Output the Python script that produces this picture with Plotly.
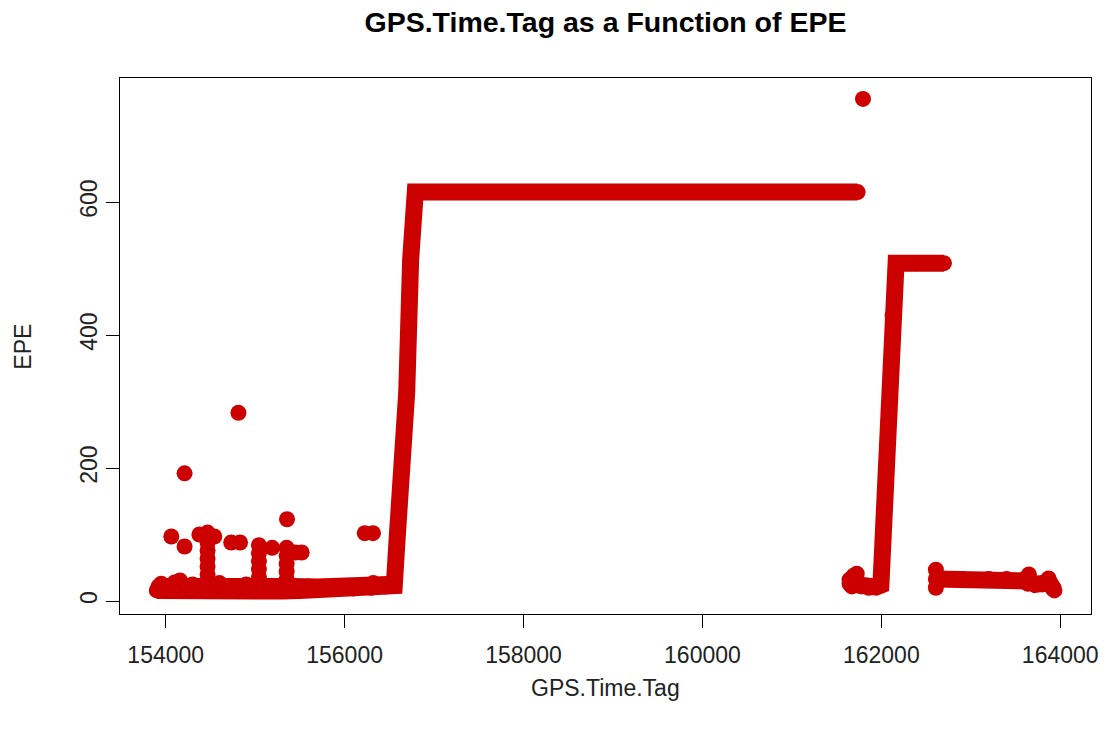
import plotly.graph_objects as go

RED = "#CD0000"

# ---- data (GPS.Time.Tag, EPE) ----
# main track, segment 1: low band, first rise, plateau at ~615
seg1_x = [153900, 154100, 154300, 154500, 154700, 154900, 155100, 155300, 155500,
          155700, 155900, 156100, 156300, 156450, 156555, 156590, 156650, 156694,
          156738, 156790, 157500, 158500, 159500, 160500, 161200, 161735]
seg1_y = [16, 15, 15, 15, 15, 15, 15, 15, 16,
          17, 18, 19, 20, 22, 23, 100, 220, 313,
          513, 615, 615, 615, 615, 615, 615, 615]

# upper edge of the low band (many readings between ~15 and ~25)
band_x = [153920, 154200, 154500, 154800, 155100, 155400, 155700, 156000, 156300, 156480]
band_y = [22, 23, 22, 22, 23, 22, 21, 22, 24, 25]

# segment 2: low cluster near 161700, second rise, plateau at ~508
seg2_x = [161645, 161700, 161780, 161860, 161940, 161995, 162040,
          162082, 162126, 162165, 162400, 162700]
seg2_y = [26, 24, 22, 20, 21, 24, 140,
          271, 429, 508, 508, 508]

# segment 3: final low plateau at ~33
seg3_x = [162610, 162900, 163200, 163400, 163600, 163660, 163720, 163800, 163880, 163935]
seg3_y = [33, 33, 33, 33, 33, 30, 25, 25, 28, 16]

# isolated / scattered points
pts_x = [153950, 154063, 154100, 154160, 154211, 154211, 154300, 154377, 154468,
         154543, 154468, 154468, 154468, 154468, 154468, 154600, 154732, 154813,
         154831, 154900, 155042, 155190, 155042, 155042, 155042, 155042, 155356,
         155352, 155352, 155352, 155352, 155352, 155449, 155520, 155600, 156225,
         156317, 156320, 161795,
         161645, 161690, 161725, 161670,
         162610, 162610, 163650, 163640, 163870]
pts_y = [26, 97, 28, 31, 82, 192, 25, 100, 103,
         97, 88, 76, 64, 52, 40, 27, 88, 283,
         88, 25, 84, 80, 72, 60, 48, 36, 123,
         80, 68, 56, 44, 32, 73, 73, 22, 102,
         102, 27, 755,
         32, 38, 41, 22,
         47, 20, 40, 26, 34]

x_ticks = [154000, 156000, 158000, 160000, 162000, 164000]
y_ticks = [0, 200, 400, 600]

fig = go.Figure()
for sx, sy in [(band_x, band_y), (seg1_x, seg1_y), (seg2_x, seg2_y), (seg3_x, seg3_y)]:
    fig.add_trace(go.Scatter(
        x=sx, y=sy, mode="lines+markers",
        line=dict(color=RED, width=17),
        marker=dict(color=RED, size=16),
        hoverinfo="x+y", showlegend=False))
fig.add_trace(go.Scatter(
    x=pts_x, y=pts_y, mode="markers",
    marker=dict(color=RED, size=16),
    showlegend=False))

font = "Liberation Sans, Arial, sans-serif"
fig.update_layout(
    width=1109, height=730,
    margin=dict(l=120, r=11, t=78, b=116),
    paper_bgcolor="white", plot_bgcolor="white",
    font=dict(family=font, size=23, color="black"),
    title=dict(text="<b>GPS.Time.Tag as a Function of EPE</b>",
               x=0.5, xref="paper", y=1 - 22 / 730, yref="container",
               xanchor="center", yanchor="middle",
               font=dict(family=font, size=28.5, color="black")),
    xaxis=dict(range=[153489, 164344], tickvals=x_ticks,
               ticktext=[str(v) for v in x_ticks],
               showgrid=False, zeroline=False, showline=True, mirror=True,
               linecolor="black", linewidth=1, ticks="outside", ticklen=13,
               ticklabelstandoff=7,
               tickcolor="black", tickfont=dict(size=23, color="#222")),
    yaxis=dict(range=[-19.5, 786.5], tickvals=y_ticks,
               ticktext=[str(v) for v in y_ticks], tickangle=-90,
               showgrid=False, zeroline=False, showline=True, mirror=True,
               linecolor="black", linewidth=1, ticks="outside", ticklen=13,
               tickcolor="black", tickfont=dict(size=23, color="#222")),
    annotations=[
        dict(text="GPS.Time.Tag", xref="paper", yref="paper",
             x=0.5, y=(614 - 688) / 536, xanchor="center", yanchor="middle",
             showarrow=False, font=dict(size=23, color="#222")),
        dict(text="EPE", xref="paper", yref="paper", textangle=-90,
             x=(22 - 120) / 978, y=(614 - 347) / 536, xanchor="center",
             yanchor="middle", showarrow=False, font=dict(size=23, color="#222")),
    ],
)

fig.write_html("out.html")
